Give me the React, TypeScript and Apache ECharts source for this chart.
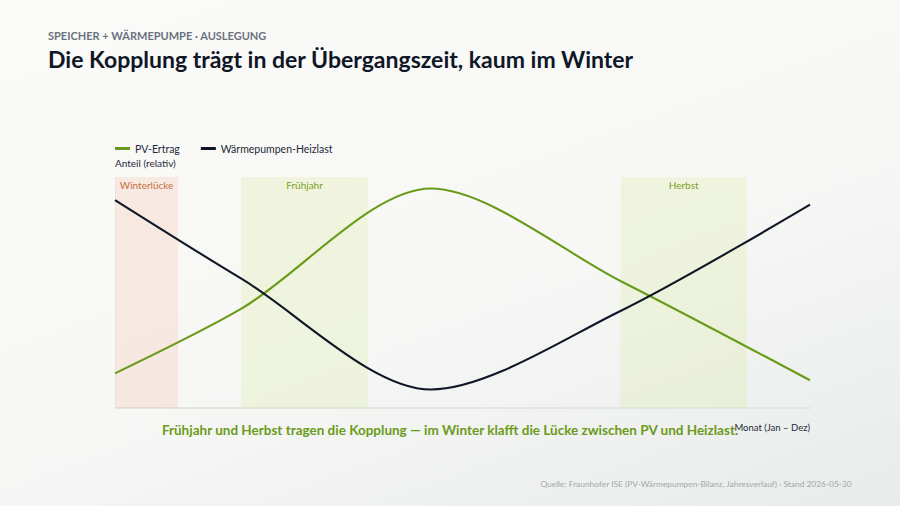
import React, { useEffect, useRef } from 'react';
import * as echarts from 'echarts';

const months = ['Jan', 'Feb', 'Mär', 'Apr', 'Mai', 'Jun', 'Jul', 'Aug', 'Sep', 'Okt', 'Nov', 'Dez'];
// Stützpunkte (Jan, Mär, Jun, Sep, Dez), dazwischen geglättet
const pvErtrag = [15, null, 43, null, null, 95, null, null, 55, null, null, 12];
const heizlast = [90, null, 56, null, null, 8, null, null, 42, null, null, 88];
const bands = [
  { name: 'Winterlücke', from: 'Jan', to: 'Feb', fill: 'rgba(246,170,140,0.20)', text: '#c8703f' },
  { name: 'Frühjahr', from: 'Mär', to: 'Mai', fill: 'rgba(218,234,160,0.28)', text: '#7a9f26' },
  { name: 'Herbst', from: 'Sep', to: 'Nov', fill: 'rgba(218,234,160,0.28)', text: '#7a9f26' },
];

const FONT = 'Lato, "Noto Sans", sans-serif';
const GREEN = '#6b9a1a';
const DARK = '#0f1626';

const App: React.FC = () => {
  const chartRef = useRef<HTMLDivElement>(null);

  useEffect(() => {
    if (!chartRef.current) return;
    const chart = echarts.init(chartRef.current, null, { renderer: 'svg' });

    const option: echarts.EChartsOption = {
      animation: false,
      backgroundColor: 'transparent',
      textStyle: { fontFamily: FONT },
      title: [
        {
          text: 'SPEICHER + WÄRMEPUMPE · AUSLEGUNG',
          left: 43,
          top: 25,
          textStyle: { fontFamily: FONT, fontSize: 11, fontWeight: 'bold', color: '#6b7280' },
        },
        {
          text: 'Die Kopplung trägt in der Übergangszeit, kaum im Winter',
          left: 43,
          top: 42,
          textStyle: { fontFamily: FONT, fontSize: 23, fontWeight: 'bold', color: DARK },
        },
      ],
      legend: {
        left: 115,
        top: 143,
        padding: 0,
        itemGap: 21,
        itemWidth: 15,
        itemHeight: 3,
        icon: 'rect',
        textStyle: { fontFamily: FONT, fontSize: 10.5, color: '#1f2937' },
        data: ['PV-Ertrag', 'Wärmepumpen-Heizlast'],
      },
      grid: { left: 115, right: 90, top: 177, bottom: 98 },
      xAxis: {
        type: 'category',
        data: months,
        boundaryGap: false,
        axisTick: { show: false },
        axisLabel: { show: false },
        axisLine: { lineStyle: { color: '#e3e6e0', width: 2 } },
        splitLine: { show: false },
        name: 'Monat (Jan – Dez)',
        nameLocation: 'end',
        nameGap: 0,
        nameTextStyle: {
          fontFamily: FONT,
          fontSize: 9.5,
          color: '#1f2937',
          align: 'right',
          verticalAlign: 'top',
          padding: [14, 0, 0, 0],
        },
      },
      yAxis: {
        type: 'value',
        min: 0,
        max: 100,
        axisLabel: { show: false },
        axisTick: { show: false },
        splitLine: { show: false },
        axisLine: { show: true, lineStyle: { color: '#eef0ec', width: 1 } },
        name: 'Anteil (relativ)',
        nameGap: 9,
        nameTextStyle: { fontFamily: FONT, fontSize: 10, color: '#1f2937', align: 'left' },
      },
      series: [
        {
          name: 'PV-Ertrag',
          type: 'line',
          data: pvErtrag,
          connectNulls: true,
          smooth: 0.3,
          showSymbol: false,
          lineStyle: { color: GREEN, width: 2.1 },
          itemStyle: { color: GREEN },
          z: 3,
          markArea: {
            silent: true,
            data: bands.map((b) => [
              {
                name: b.name,
                xAxis: b.from,
                itemStyle: { color: b.fill },
                label: {
                  show: true,
                  position: 'insideTop',
                  distance: 3,
                  color: b.text,
                  fontFamily: FONT,
                  fontSize: 10,
                },
              },
              { xAxis: b.to },
            ]) as any,
          },
        },
        {
          name: 'Wärmepumpen-Heizlast',
          type: 'line',
          data: heizlast,
          connectNulls: true,
          smooth: 0.3,
          showSymbol: false,
          lineStyle: { color: DARK, width: 2.1 },
          itemStyle: { color: DARK },
          z: 4,
        },
      ],
      graphic: [
        {
          type: 'text',
          x: 450,
          y: 430,
          style: {
            text: 'Frühjahr und Herbst tragen die Kopplung — im Winter klafft die Lücke zwischen PV und Heizlast.',
            fill: GREEN,
            font: `bold 13.5px ${FONT}`,
            textAlign: 'center',
            textVerticalAlign: 'middle',
          },
        },
        {
          type: 'text',
          right: 48,
          top: 480,
          style: {
            text: 'Quelle: Fraunhofer ISE (PV-Wärmepumpen-Bilanz, Jahresverlauf) · Stand 2026-05-30',
            fill: '#a3a8a6',
            font: `8.4px ${FONT}`,
          },
        },
      ],
    };

    chart.setOption(option);
    return () => {
      chart.dispose();
    };
  }, []);

  return (
    <div
      style={{
        position: 'fixed',
        left: 0,
        top: 0,
        width: 900,
        height: 506,
        background: 'linear-gradient(160deg, #fafaf8 0%, #f7f8f6 55%, #e8ebea 100%)',
      }}
    >
      <div ref={chartRef} style={{ width: 900, height: 506 }} />
    </div>
  );
};

export default App;
